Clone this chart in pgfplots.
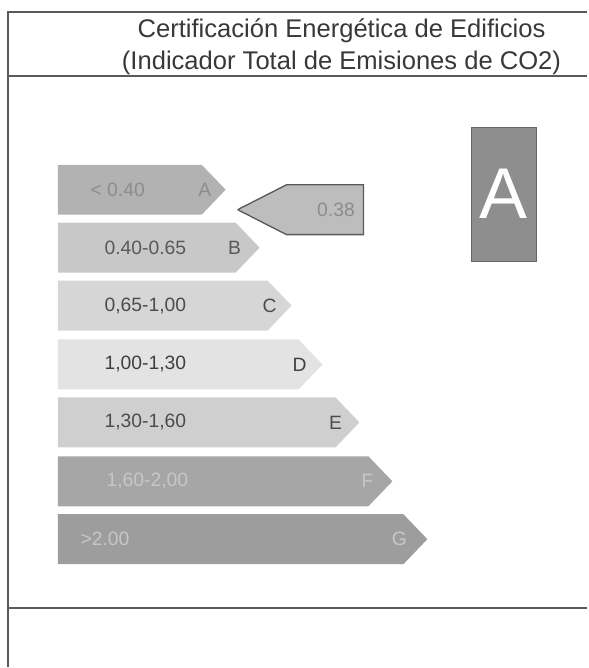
\documentclass[border=0pt]{standalone}
\usepackage{pgfplots}
\pgfplotsset{compat=1.18}
\usepackage{fontspec}
\setmainfont{Liberation Sans}
\definecolor{cA}{HTML}{B2B2B2}
\definecolor{cB}{HTML}{C8C8C8}
\definecolor{cC}{HTML}{D6D6D6}
\definecolor{cD}{HTML}{E3E3E3}
\definecolor{cE}{HTML}{CFCFCF}
\definecolor{cF}{HTML}{A6A6A6}
\definecolor{cG}{HTML}{9D9D9D}
\definecolor{cInd}{HTML}{BDBDBD}
\definecolor{cBox}{HTML}{8E8E8E}
\definecolor{frame}{HTML}{5A5A5A}
\tikzset{lbl/.style={font=\fontsize{14.5}{16}\selectfont}}
\begin{document}
\begin{tikzpicture}
\begin{axis}[
  width=441pt, height=501pt, scale only axis,
  xmin=0, xmax=588, ymin=0, ymax=668, y dir=reverse,
  hide axis, clip=false
]
\path (axis cs:0,0) rectangle (axis cs:588,668);
% frame
\draw[frame, line width=1.5pt] (axis cs:8,668) -- (axis cs:8,12) -- (axis cs:588,12);
\draw[frame, line width=1.5pt] (axis cs:8,76) -- (axis cs:588,76);
\draw[frame, line width=1.5pt] (axis cs:8,609) -- (axis cs:588,609);
% title
\node[align=center, text=black!78, font=\fontsize{19.2}{24}\selectfont] at (axis cs:342,47)
  {Certificación Energética de Edificios\\(Indicador Total de Emisiones de CO2)};
% bars (class arrows)
\addplot[fill=cA, draw=none] coordinates {(58,165) (202,165) (226,190) (202,215) (58,215)};
\addplot[fill=cB, draw=none] coordinates {(58,223) (236,223) (260,248) (236,273) (58,273)};
\addplot[fill=cC, draw=none] coordinates {(58,281) (268,281) (292,306) (268,331) (58,331)};
\addplot[fill=cD, draw=none] coordinates {(58,340) (299,340) (323,365) (299,390) (58,390)};
\addplot[fill=cE, draw=none] coordinates {(58,398) (336,398) (360,423) (336,448) (58,448)};
\addplot[fill=cF, draw=none] coordinates {(58,457) (369,457) (393,482) (369,507) (58,507)};
\addplot[fill=cG, draw=none] coordinates {(58,515) (404,515) (428,540) (404,565) (58,565)};
% labels
\node[lbl, anchor=west, text=black!45] at (axis cs:86,190) {< 0.40};
\node[lbl, text=black!45] at (axis cs:205,190) {A};
\node[lbl, anchor=west, text=black!65] at (axis cs:100,248) {0.40-0.65};
\node[lbl, text=black!65] at (axis cs:235,248) {B};
\node[lbl, anchor=west, text=black!70] at (axis cs:100,306) {0,65-1,00};
\node[lbl, text=black!70] at (axis cs:270,306) {C};
\node[lbl, anchor=west, text=black!75] at (axis cs:100,365) {1,00-1,30};
\node[lbl, text=black!75] at (axis cs:300,365) {D};
\node[lbl, anchor=west, text=black!70] at (axis cs:100,423) {1,30-1,60};
\node[lbl, text=black!70] at (axis cs:336,423) {E};
\node[lbl, anchor=west, text=black!22] at (axis cs:102,482) {1,60-2,00};
\node[lbl, text=black!22] at (axis cs:368,482) {F};
\node[lbl, anchor=west, text=black!22] at (axis cs:76,540) {>2.00};
\node[lbl, text=black!22] at (axis cs:400,540) {G};
% indicator
\addplot[fill=cInd, draw=frame, line width=1pt] coordinates {(238,210) (287,185) (364,185) (364,235) (287,235) (238,210)};
\node[lbl, anchor=east, text=black!45] at (axis cs:360,210) {0.38};
% rating box
\addplot[fill=cBox, draw=black!60, line width=0.8pt] coordinates {(472,128) (537,128) (537,262) (472,262) (472,128)};
\node[text=white, font=\fontsize{54}{54}\selectfont] at (axis cs:504.5,194) {A};
\end{axis}
\end{tikzpicture}
\end{document}
